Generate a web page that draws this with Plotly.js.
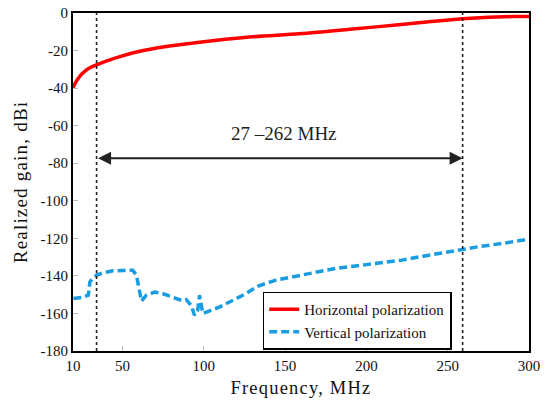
<!DOCTYPE html>
<html>
<head>
<meta charset="utf-8">
<script src="https://cdn.plot.ly/plotly-3.0.1.min.js"></script>
<style>
html,body{margin:0;padding:0;background:#fff;}
#chart{width:551px;height:403px;}
.xtitle,.ytitle{letter-spacing:1.2px;}
</style>
</head>
<body>
<div id="chart"></div>
<script>
// Horizontal polarization (axis units, dBi)
const horizFreq = [19.6, 21, 23, 25, 27, 30, 34.1, 40, 48.4, 60.6, 75, 97.4, 128, 158.6, 190, 220, 240, 259, 270, 280, 290, 300];
const horizGain = [-39.8, -37.3, -34.6, -32.5, -30.9, -29.2, -27.6, -25.6, -23.2, -20.4, -18.1, -15.6, -12.8, -11.1, -8.7, -6.2, -4.5, -3.1, -2.5, -2.1, -1.9, -1.8];

// Vertical polarization
const vertFreq = [19.8, 25, 29.0, 30.0, 32, 34.1, 38, 44.1, 50, 56.3, 58.6, 60.6, 61.7, 64.7, 69.8, 75, 81.0, 86.2, 89.2, 92.3, 94.3, 96.3, 97.4, 98.4, 99.4, 104, 109.6, 118, 126, 133, 144.3, 160, 181.1, 200, 221.7, 235, 250.5, 259, 268.8, 285, 298.8, 300];
const vertGain = [-152, -151.5, -150.3, -143.2, -141, -139.6, -138.4, -137.3, -137.1, -137, -139.6, -149.4, -153.4, -150.3, -148.6, -149.5, -151.2, -153, -152.6, -155.7, -161, -158.3, -150.3, -154.6, -160, -158.5, -156.6, -153, -149.4, -145.5, -142.3, -139.6, -136, -134, -131.6, -129.5, -127.2, -125.8, -124.5, -122.5, -120.6, -120.4];

// Band edges (axis units) and arrow level
const bandEdges = [34.1, 259.2];
const arrowLevel = -77.3;
const bandLabel = "27 \u2013262 MHz";

// Axis ticks
const xTickVals = [19.6, 50, 100, 150, 200, 250, 300];
const xTickText = ["10", "50", "100", "150", "200", "250", "300"];
const yTickVals = [0, -20, -40, -60, -80, -100, -120, -140, -160, -180];
const yTickText = ["0", "-20", "-40", "-60", "-80", "-100", "-120", "-140", "-160", "-180"];

const serif = "Liberation Serif, Times New Roman, serif";

const traces = [
  {x: horizFreq, y: horizGain, mode: "lines", name: "Horizontal polarization",
   line: {color: "#ff0000", width: 3.5, shape: "spline", smoothing: 0.8}},
  {x: vertFreq, y: vertGain, mode: "lines", name: "Vertical polarization",
   line: {color: "#1a9de0", width: 3.5, dash: "8px,4px"}}
];

const shapes = bandEdges.map(v => ({
  type: "line", xref: "x", yref: "y", x0: v, x1: v, y0: -180, y1: 0,
  line: {color: "#222", width: 1.6, dash: "dot"}
}));

const annotations = [
  {x: bandEdges[1], y: arrowLevel, ax: bandEdges[0], ay: arrowLevel,
   xref: "x", yref: "y", axref: "x", ayref: "y", text: "",
   showarrow: true, arrowhead: 2, arrowside: "end+start", arrowsize: 1.3,
   arrowwidth: 2, arrowcolor: "#222", startarrowhead: 2, startarrowsize: 1.3},
  {x: (bandEdges[0] + bandEdges[1]) / 2 + 3, y: arrowLevel + 13.2, xref: "x", yref: "y",
   text: bandLabel, showarrow: false, font: {family: serif, size: 19, color: "#222"}}
];

const layout = {
  width: 551, height: 403,
  margin: {l: 73, r: 22, t: 13, b: 52},
  paper_bgcolor: "#fff", plot_bgcolor: "#fff",
  font: {family: serif, color: "#111"},
  showlegend: true,
  legend: {x: 0.416, y: 0.176, xanchor: "left", yanchor: "top",
    bordercolor: "#000", borderwidth: 1.5, bgcolor: "#fff",
    font: {family: serif, size: 15, color: "#111"}, itemwidth: 30,
    tracegroupgap: 0},
  xaxis: {range: [19.6, 300], tickvals: xTickVals, ticktext: xTickText,
    ticks: "inside", ticklen: 5, tickcolor: "#bbb", tickwidth: 1,
    showline: true, linecolor: "#000", linewidth: 2, mirror: true,
    showgrid: false, zeroline: false,
    tickfont: {family: serif, size: 15, color: "#111"},
    title: {text: "Frequency, MHz", font: {family: serif, size: 18.5, color: "#111"}, standoff: 8}},
  yaxis: {range: [-180, 0], tickvals: yTickVals, ticktext: yTickText,
    ticks: "inside", ticklen: 5, tickcolor: "#bbb", tickwidth: 1,
    showline: true, linecolor: "#000", linewidth: 2, mirror: true,
    showgrid: false, zeroline: false,
    tickfont: {family: serif, size: 15, color: "#111"},
    title: {text: "Realized gain, dBi", font: {family: serif, size: 19, color: "#111"}, standoff: 8}},
  shapes: shapes,
  annotations: annotations
};

Plotly.newPlot("chart", traces, layout, {displayModeBar: false, staticPlot: true});
</script>
</body>
</html>
